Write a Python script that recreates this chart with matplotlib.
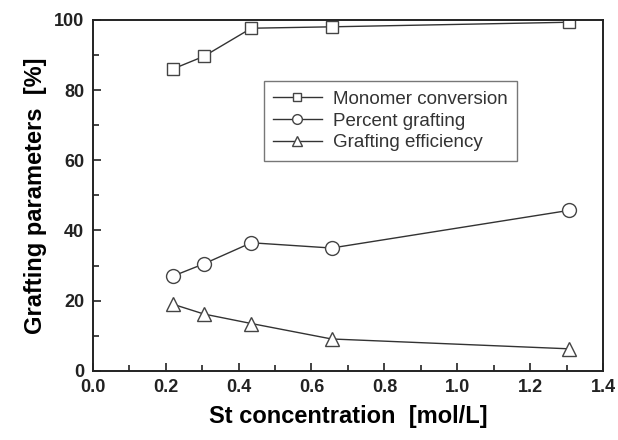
import matplotlib.pyplot as plt
from matplotlib.ticker import MultipleLocator

st_conc = [0.22, 0.305, 0.435, 0.655, 1.305]
monomer_conversion = [86.0, 89.6, 97.6, 98.0, 99.3]
percent_grafting = [27.0, 30.5, 36.5, 35.0, 45.7]
grafting_efficiency = [19.0, 16.2, 13.5, 9.1, 6.3]

plt.rcParams['font.family'] = ['Liberation Sans', 'DejaVu Sans']

fig = plt.figure(figsize=(6.18, 4.4), dpi=100)
ax = fig.add_axes([0.150, 0.157, 0.826, 0.798])

style = dict(color='#333333', lw=1.0, mfc='white', mec='#444444', mew=1.0)
ax.plot(st_conc, monomer_conversion, marker='s', ms=9, label='Monomer conversion', **style)
ax.plot(st_conc, percent_grafting, marker='o', ms=10, label='Percent grafting', **style)
ax.plot(st_conc, grafting_efficiency, marker='^', ms=10, label='Grafting efficiency', **style)

ax.set_xlim(0.0, 1.4)
ax.set_ylim(0, 100)
ax.xaxis.set_major_locator(MultipleLocator(0.2))
ax.xaxis.set_minor_locator(MultipleLocator(0.1))
ax.yaxis.set_major_locator(MultipleLocator(20))
ax.yaxis.set_minor_locator(MultipleLocator(10))
ax.tick_params(which='both', direction='in', top=False, right=False, width=1.2, colors='#222222')
ax.tick_params(which='major', length=6, labelsize=13, pad=6)
ax.tick_params(which='minor', length=4)
for lab in ax.get_yticklabels():
    lab.set_fontweight('bold')
ax.set_xticklabels([f'{v:.1f}' for v in ax.get_xticks()], fontweight='bold')

for sp in ax.spines.values():
    sp.set_linewidth(1.4)
    sp.set_color('#222222')

ax.set_xlabel('St concentration  [mol/L]', fontsize=17, fontweight='bold', labelpad=6)
ax.set_ylabel('Grafting parameters  [%]', fontsize=17, fontweight='bold', labelpad=5)

leg = ax.legend(loc='upper left', bbox_to_anchor=(0.335, 0.825), fontsize=13.5,
                frameon=True, fancybox=False, handlelength=2.6, borderpad=0.5,
                labelspacing=0.25, handletextpad=0.6, markerscale=0.7,
                borderaxespad=0)
leg.get_frame().set_edgecolor('#555555')
leg.get_frame().set_linewidth(1.0)
for t in leg.get_texts():
    t.set_color('#333333')

fig.savefig('out.png', dpi=100)
